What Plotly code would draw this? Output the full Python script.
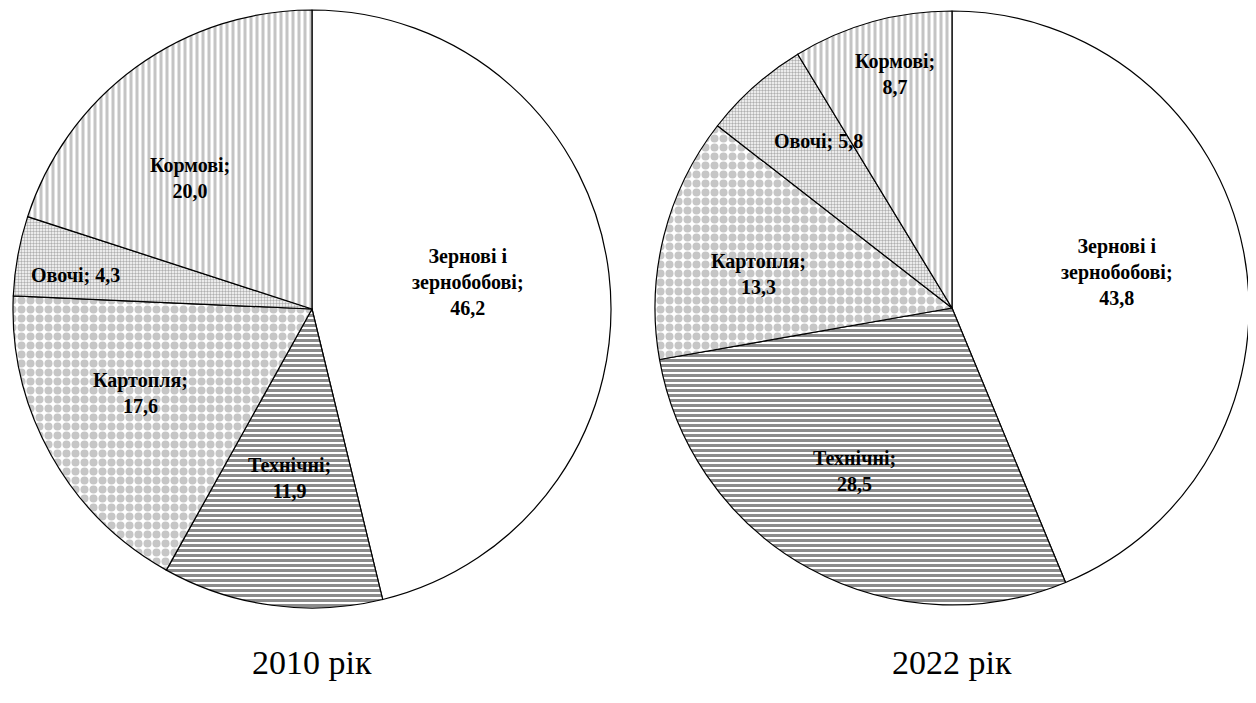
import math
import plotly.graph_objects as go

W, H = 1256, 703
OFF = 8  # page offset of the plot div

categories = ["Зернові і<br>зернобобові", "Технічні", "Картопля", "Овочі", "Кормові"]
values_2010 = [46.2, 11.9, 17.6, 4.3, 20.0]
values_2022 = [43.8, 28.5, 13.3, 5.8, 8.7]
years = ["2010 рік", "2022 рік"]

# label layout: separator between name and value, radial fraction, angle shift
sep_2010 = [";<br>", ";<br>", ";<br>", "; ", ";<br>"]
sep_2022 = [";<br>", ";<br>", ";<br>", "; ", ";<br>"]
frac_2010 = [0.53, 0.57, 0.64, 0.80, 0.60]
shift_2010 = [-3, 0, 3, -2, -7]
frac_2022 = [0.57, 0.64, 0.66, 0.72, 0.81]
shift_2022 = [-1, 2, -4, 3, 2]

shapes = ["", "-", ".", ".", "|"]
fgcolors = ["#ffffff", "#8c8c8c", "#c6c6c6", "#b0b0b0", "#c4c4c4"]
sizes = [8, 5, 9, 3, 6]
solidity = [0.5, 0.6, 0.62, 0.5, 0.5]


def px2paper(px, py):
    return (px - OFF) / W, 1 - (py - OFF) / H


pies = [
    dict(vals=values_2010, cx=312, cy=309, r=299, sep=sep_2010, frac=frac_2010, shift=shift_2010),
    dict(vals=values_2022, cx=952, cy=308, r=297, sep=sep_2022, frac=frac_2022, shift=shift_2022),
]

fig = go.Figure()
annotations = []
for p, year in zip(pies, years):
    cx, cy, r = p["cx"], p["cy"], p["r"]
    x0, y1 = px2paper(cx - r, cy - r)
    x1, y0 = px2paper(cx + r, cy + r)
    fig.add_trace(go.Pie(
        labels=categories,
        values=p["vals"],
        sort=False,
        direction="clockwise",
        rotation=0,
        textinfo="none",
        hoverinfo="label+value",
        showlegend=False,
        domain=dict(x=[x0, x1], y=[y0, y1]),
        marker=dict(
            colors=["#ffffff"] * 5,
            line=dict(color="#000000", width=1.2),
            pattern=dict(shape=shapes, fgcolor=fgcolors, bgcolor="#ffffff",
                         size=sizes, solidity=solidity, fillmode="replace"),
        ),
    ))
    total = sum(p["vals"])
    cum = 0.0
    for i, v in enumerate(p["vals"]):
        mid = (cum + v / 2) / total * 360 + p["shift"][i]
        cum += v
        rr = p["frac"][i] * r
        px = cx + rr * math.sin(math.radians(mid))
        py = cy - rr * math.cos(math.radians(mid))
        ax, ay = px2paper(px, py)
        txt = categories[i] + p["sep"][i] + f"{v:.1f}".replace(".", ",")
        annotations.append(dict(
            x=ax, y=ay, xref="paper", yref="paper",
            text="<b>" + txt + "</b>", showarrow=False,
            font=dict(family="Liberation Serif", size=20, color="#000000", weight="bold"),
            align="center", xanchor="center", yanchor="middle",
        ))
    tx, ty = px2paper(cx, 662)
    annotations.append(dict(
        x=tx, y=ty, xref="paper", yref="paper",
        text=year, showarrow=False,
        font=dict(family="Liberation Serif", size=34, color="#000000"),
        xanchor="center", yanchor="middle",
    ))

fig.update_layout(
    width=W, height=H,
    margin=dict(l=0, r=0, t=0, b=0),
    paper_bgcolor="#ffffff",
    plot_bgcolor="#ffffff",
    annotations=annotations,
)

fig.write_html("out.html")
